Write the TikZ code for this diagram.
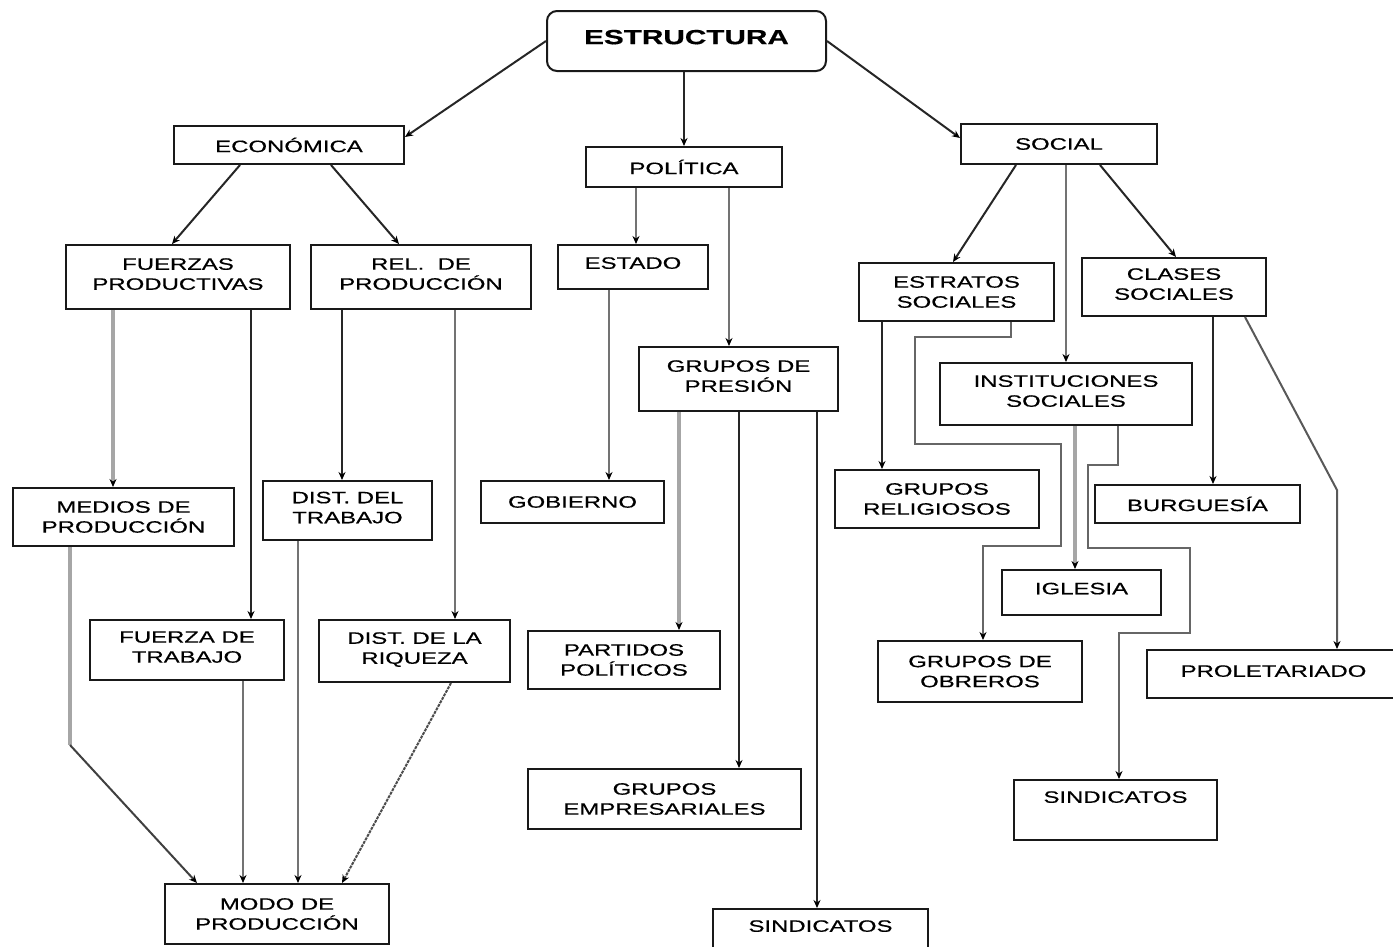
\documentclass[tikz,border=0pt]{standalone}
\usepackage{fontspec}
\setmainfont{Liberation Sans}[FakeStretch=1.45,FakeBold=0.5]
\usetikzlibrary{arrows.meta}

\begin{document}
\begin{tikzpicture}[x=1pt,y=-1pt,
  box/.style={draw=black!90, line width=2pt, rectangle, align=center, inner sep=0pt,
    font=\fontsize{16.5}{20}\selectfont},
  tipped/.style={-{Stealth[length=8pt,width=7pt,color=black]}},
  blk/.style={tipped, draw=black!85, line width=2pt},
  mid/.style={tipped, draw=black!55, line width=2pt},
  pale/.style={tipped, draw=black!35, line width=3.6pt},
  paleline/.style={draw=black!35, line width=3.6pt},
]
\useasboundingbox (0,0) rectangle (1393,946);

% top level
\node[box, rounded corners=10pt, minimum width=279pt, minimum height=60pt,
      text depth=8pt, font=\fontsize{20.5}{24}\selectfont\bfseries] (estr) at (686.5,41) {ESTRUCTURA};
\node[box, minimum width=230pt, minimum height=38pt] (econ) at (289,145) {ECONÓMICA};
\node[box, minimum width=196pt, minimum height=40pt] (pol) at (684,167) {POLÍTICA};
\node[box, minimum width=196pt, minimum height=40pt] (soc) at (1059,144) {SOCIAL};

% economic branch
\node[box, minimum width=224pt, minimum height=64pt, text depth=6pt] (fp) at (178,277) {FUERZAS\\PRODUCTIVAS};
\node[box, minimum width=220pt, minimum height=64pt, text depth=6pt] (rp) at (421,277) {REL.~~DE\\PRODUCCIÓN};
\node[box, minimum width=221pt, minimum height=58pt] (mp) at (123.5,517) {MEDIOS DE\\PRODUCCIÓN};
\node[box, minimum width=169pt, minimum height=59pt, text depth=6pt] (dt) at (347.5,510.5) {DIST. DEL\\TRABAJO};
\node[box, minimum width=194pt, minimum height=60pt, text depth=6pt] (ft) at (187,650) {FUERZA DE\\TRABAJO};
\node[box, minimum width=191pt, minimum height=62pt, text depth=6pt] (dr) at (414.5,651) {DIST. DE LA\\RIQUEZA};
\node[box, minimum width=224pt, minimum height=60pt] (modo) at (277,914) {MODO DE\\PRODUCCIÓN};

% political branch
\node[box, minimum width=150pt, minimum height=44pt, text depth=8pt] (est) at (633,267) {ESTADO};
\node[box, minimum width=199pt, minimum height=64pt, text depth=6pt] (gp) at (738.5,379) {GRUPOS DE\\PRESIÓN};
\node[box, minimum width=183pt, minimum height=42pt] (gob) at (572.5,502) {GOBIERNO};
\node[box, minimum width=192pt, minimum height=58pt] (pp) at (624,660) {PARTIDOS\\POLÍTICOS};
\node[box, minimum width=273pt, minimum height=60pt] (ge) at (664.5,799) {GRUPOS\\EMPRESARIALES};
\node[box, minimum width=215pt, minimum height=60pt, text depth=26pt] (sinp) at (820.5,939) {SINDICATOS};

% social branch
\node[box, minimum width=195pt, minimum height=58pt] (es) at (956.5,292) {ESTRATOS\\SOCIALES};
\node[box, minimum width=184pt, minimum height=58pt, text depth=6pt] (cs) at (1174,287) {CLASES\\SOCIALES};
\node[box, minimum width=252pt, minimum height=62pt, text depth=6pt] (is) at (1066,394) {INSTITUCIONES\\SOCIALES};
\node[box, minimum width=204pt, minimum height=58pt] (gr) at (937,499) {GRUPOS\\RELIGIOSOS};
\node[box, minimum width=205pt, minimum height=38pt] (bur) at (1197.5,504) {BURGUESÍA};
\node[box, minimum width=159pt, minimum height=45pt, text depth=8pt] (igl) at (1081.5,592.5) {IGLESIA};
\node[box, minimum width=204pt, minimum height=61pt] (go) at (980,671.5) {GRUPOS DE\\OBREROS};
\node[box, minimum width=253pt, minimum height=48pt, text depth=6pt] (prol) at (1273.5,674) {PROLETARIADO};
\node[box, minimum width=203pt, minimum height=60pt, text depth=26pt] (sins) at (1115.5,810) {SINDICATOS};

% bend points of the routed connectors
\coordinate (mpbend) at (70,745);
\coordinate (csbend) at (1337,490);

% from the root
\draw[blk] (estr.west) -- ([yshift=8pt]econ.east);
\draw[blk] (estr.south -| pol.north) -- (pol.north);
\draw[blk] (estr.east) -- ([yshift=6pt]soc.west);

% economic connectors
\draw[blk] ([xshift=-49pt]econ.south) -- ([xshift=-6pt]fp.north);
\draw[blk] ([xshift=42pt]econ.south) -- ([xshift=-22pt]rp.north);
\draw[pale] (fp.south -| 113,0) -- (mp.north -| 113,0);
\draw[blk] (fp.south -| 251,0) -- (ft.north -| 251,0);
\draw[blk] (rp.south -| 342,0) -- (dt.north -| 342,0);
\draw[mid] (rp.south -| 455,0) -- (dr.north -| 455,0);
\draw[paleline] (mp.south -| mpbend) -- (mpbend);
\draw[blk, draw=black!75] (mpbend) -- (modo.north -| 197,0);
\draw[mid] (ft.south -| 243,0) -- (modo.north -| 243,0);
\draw[mid] (dt.south -| 298,0) -- (modo.north -| 298,0);
\draw[blk, draw=black!70, dash pattern=on 3pt off 1pt] ([xshift=36.5pt]dr.south) -- ([xshift=65pt]modo.north);

% political connectors
\draw[mid] (pol.south -| 636,0) -- (est.north -| 636,0);
\draw[mid] (pol.south -| 729,0) -- (gp.north -| 729,0);
\draw[mid] (est.south -| 609,0) -- (gob.north -| 609,0);
\draw[pale] (gp.south -| 679,0) -- (pp.north -| 679,0);
\draw[blk] (gp.south -| 739,0) -- (ge.north -| 739,0);
\draw[blk] (gp.south -| 817,0) -- (sinp.north -| 817,0);

% social connectors
\draw[blk] ([xshift=-43pt]soc.south) -- ([xshift=-3.5pt]es.north);
\draw[mid] (soc.south -| 1066,0) -- (is.north -| 1066,0);
\draw[blk] ([xshift=41pt]soc.south) -- ([xshift=2pt]cs.north);
\draw[blk] (es.south -| 882,0) -- (gr.north -| 882,0);
\draw[mid, draw=black!60] (es.south -| 1011,0) -- (1011,337) -- (915,337) -- (915,444)
  -- (1061,444) -- (1061,546) -- (983,546) -- (go.north -| 983,0);
\draw[pale] (is.south -| 1075,0) -- (igl.north -| 1075,0);
\draw[mid, draw=black!60] (is.south -| 1118,0) -- (1118,465) -- (1088,465) -- (1088,548)
  -- (1190,548) -- (1190,633) -- (1119,633) -- (sins.north -| 1119,0);
\draw[blk] (cs.south -| 1213,0) -- (bur.north -| 1213,0);
\draw[mid, draw=black!65] ([xshift=71pt]cs.south) -- (csbend) -- (prol.north -| csbend);
\end{tikzpicture}
\end{document}
